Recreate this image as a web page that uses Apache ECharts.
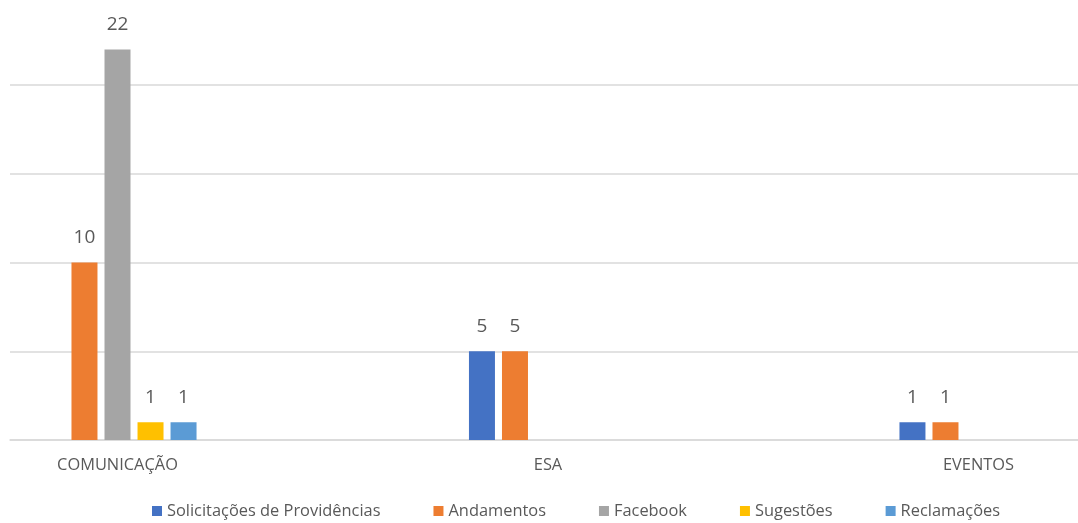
<!DOCTYPE html>
<html>
<head>
<meta charset="utf-8">
<script src="https://cdn.jsdelivr.net/npm/echarts@6/dist/echarts.min.js"></script>
<style>
html,body{margin:0;padding:0;background:#fff;}
#c{width:1078px;height:523px;}
</style>
</head>
<body>
<div id="c"></div>
<script>
const categories = ['COMUNICAÇÃO', 'ESA', 'EVENTOS'];
const seriesNames = ['Solicitações de Providências', 'Andamentos', 'Facebook', 'Sugestões', 'Reclamações'];
const solicitacoes = ['-', 5, 1];
const andamentos = [10, 5, 1];
const facebook = [22, '-', '-'];
const sugestoes = [1, '-', '-'];
const reclamacoes = [1, '-', '-'];
const colors = ['#4472C4', '#ED7D31', '#A5A5A5', '#FFC000', '#5B9BD5'];
const yMin = 0, yMax = 24.79, yInterval = 5;

const seriesData = [solicitacoes, andamentos, facebook, sugestoes, reclamacoes];
const textColor = '#595959';
const font = '"Open Sans", "Noto Sans", sans-serif';

const chart = echarts.init(document.getElementById('c'), null, {renderer: 'canvas'});
chart.setOption({
  animation: false,
  color: colors,
  textStyle: {fontFamily: font},
  grid: [
    {left: 10, right: 0, top: 0, bottom: 83, containLabel: false},
    {left: 117.5, right: 99.5, top: 0, bottom: 83, containLabel: false}
  ],
  xAxis: [
    {gridIndex: 0, type: 'value', min: 0, max: 1, axisLabel: {show: false}, axisTick: {show: false},
     splitLine: {show: false}, axisLine: {show: true, lineStyle: {color: '#d9d9d9', width: 1.5}}},
    {gridIndex: 1, type: 'category', data: categories, boundaryGap: false,
     axisLine: {show: false}, axisTick: {show: false},
     axisLabel: {color: textColor, fontSize: 16.4, margin: 17, fontFamily: font}}
  ],
  yAxis: [
    {gridIndex: 0, type: 'value', min: yMin, max: yMax, interval: yInterval, axisLabel: {show: false},
     axisLine: {show: false}, axisTick: {show: false},
     splitLine: {show: true, showMaxLine: false, lineStyle: {color: '#d9d9d9', width: 1.5}}},
    {gridIndex: 1, type: 'value', min: yMin, max: yMax, interval: yInterval, show: false,
     splitLine: {show: false}}
  ],
  legend: {
    left: 152, top: 503, padding: 0, itemWidth: 10, itemHeight: 10, itemGap: 53,
    icon: 'rect',
    textStyle: {color: textColor, fontSize: 16.4, fontFamily: font},
    data: seriesNames
  },
  series: seriesNames.map((name, i) => ({
    name: name,
    type: 'bar',
    xAxisIndex: 1, yAxisIndex: 1,
    data: seriesData[i],
    barWidth: 26,
    barGap: '27%',
    label: {show: true, position: 'top', distance: 15, color: textColor, fontSize: 19, fontFamily: font}
  }))
});
</script>
</body>
</html>
